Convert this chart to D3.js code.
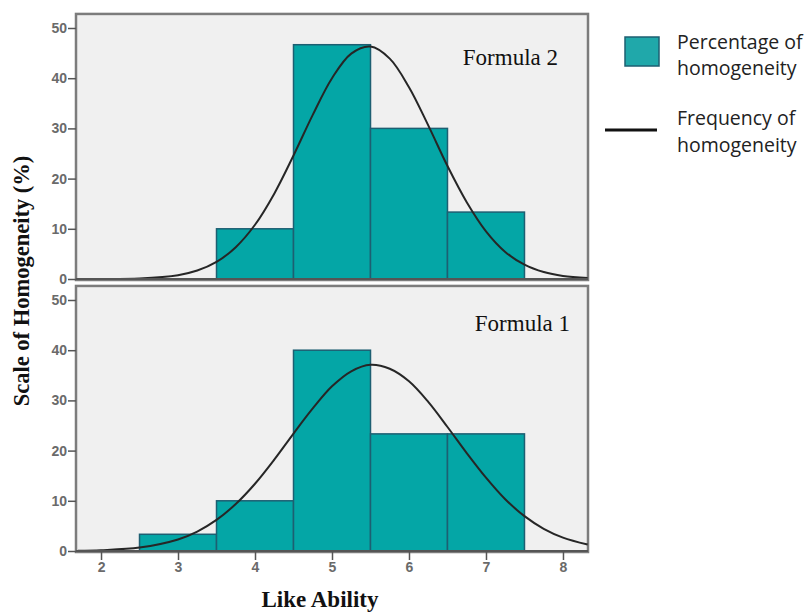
<!DOCTYPE html>
<html>
<head>
<meta charset="utf-8">
<script src="https://cdn.jsdelivr.net/npm/d3@7"></script>
<style>
  body { margin: 0; background: #fff; }
  svg { display: block; }
  .tick text { font-family: 'Liberation Sans', Arial, sans-serif; font-size: 14px; font-weight: bold; fill: #6a6a6a; }
</style>
</head>
<body>
<svg id="chart" width="809" height="612"></svg>
<script>
// bins (bin centres) and percentages
const binCenters = [3, 4, 5, 6, 7];
const formula2Pct = [0, 10, 46.67, 30, 13.33];
const formula1Pct = [3.33, 10, 40, 23.33, 23.33];

// fitted normal curves, read as points off the picture
const curveX = [1.7, 2, 2.5, 3, 3.25, 3.5, 3.75, 4, 4.25, 4.5, 4.75, 5, 5.25, 5.5, 5.75, 6, 6.25, 6.5, 6.75, 7, 7.25, 7.5, 7.75, 8, 8.32];
const formula2Curve = [0, 0.01, 0.12, 0.76, 1.68, 3.4, 6.34, 10.8, 17.0, 24.6, 32.7, 40.0, 44.9, 46.3, 43.9, 38.2, 30.6, 22.5, 15.3, 9.5, 5.4, 2.85, 1.38, 0.61, 0.19];
const formula1Curve = [0.06, 0.17, 0.69, 2.3, 3.88, 6.19, 9.36, 13.4, 18.2, 23.4, 28.4, 32.8, 35.8, 37.1, 36.3, 33.8, 29.7, 24.7, 19.5, 14.6, 10.3, 6.94, 4.41, 2.66, 1.28];

const xTicks = [2, 3, 4, 5, 6, 7, 8];
const yTicks = [0, 10, 20, 30, 40, 50];

const svg = d3.select("#chart");

const x = d3.scaleLinear().domain([1.675, 8.325]).range([76, 588]);

const panels = [
  { name: "Formula 2", pct: formula2Pct, curve: formula2Curve, y0: 279, label: [558, 65], showX: false },
  { name: "Formula 1", pct: formula1Pct, curve: formula1Curve, y0: 551, label: [570, 331], showX: true }
];

panels.forEach((p, i) => {
  const y = d3.scaleLinear().domain([0, 50]).range([p.y0, p.y0 - 251]);
  const g = svg.append("g");

  // panel background + frame
  g.append("rect")
    .attr("x", x.range()[0])
    .attr("y", y(52.8))
    .attr("width", x.range()[1] - x.range()[0])
    .attr("height", y(0) - y(52.8) + 1)
    .attr("fill", "#f0f0f0")
    .attr("stroke", "#7c7c7c")
    .attr("stroke-width", 2.5);

  const clipId = "clip" + i;
  g.append("clipPath").attr("id", clipId)
    .append("rect")
    .attr("x", x.range()[0])
    .attr("y", y(52.8))
    .attr("width", x.range()[1] - x.range()[0])
    .attr("height", y(0) - y(52.8));

  // bars
  const bars = binCenters.map((c, j) => ({ c: c, v: p.pct[j] })).filter(d => d.v > 0);
  g.selectAll(".bar")
    .data(bars)
    .enter()
    .append("rect")
    .attr("class", "bar")
    .attr("x", d => x(d.c - 0.5))
    .attr("y", d => y(d.v))
    .attr("width", d => x(d.c + 0.5) - x(d.c - 0.5))
    .attr("height", d => y(0) - y(d.v))
    .attr("fill", "#04a6a6")
    .attr("stroke", "#1d5f72")
    .attr("stroke-width", 1.5);

  // normal curve
  const line = d3.line()
    .x(d => x(d[0]))
    .y(d => y(d[1]))
    .curve(d3.curveCatmullRom);
  g.append("path")
    .datum(curveX.map((v, j) => [v, p.curve[j]]))
    .attr("clip-path", `url(#${clipId})`)
    .attr("fill", "none")
    .attr("stroke", "#262626")
    .attr("stroke-width", 2)
    .attr("d", line);

  // y axis
  const yAx = g.append("g")
    .attr("transform", `translate(${x.range()[0]},0)`)
    .call(d3.axisLeft(y).tickValues(yTicks).tickSize(8).tickPadding(1));
  yAx.select(".domain").remove();
  yAx.selectAll("line").attr("stroke", "#555").attr("stroke-width", 1.5);

  // baseline
  g.append("line")
    .attr("x1", x.range()[0]).attr("x2", x.range()[1])
    .attr("y1", y(0)).attr("y2", y(0))
    .attr("stroke", "#555").attr("stroke-width", 2);

  if (p.showX) {
    const xAx = g.append("g")
      .attr("transform", `translate(0,${y(0)})`)
      .call(d3.axisBottom(x).tickValues(xTicks).tickSize(9).tickPadding(2).tickFormat(d3.format("d")));
    xAx.select(".domain").remove();
    xAx.selectAll("line").attr("stroke", "#555").attr("stroke-width", 1.5);
  }

  // panel title
  g.append("text")
    .attr("x", p.label[0])
    .attr("y", p.label[1])
    .attr("text-anchor", "end")
    .style("font-family", "'Liberation Serif', 'Times New Roman', serif")
    .style("font-size", "23px")
    .style("fill", "#111")
    .text(p.name);
});

// axis titles
svg.append("text")
  .attr("x", -281)
  .attr("y", 29)
  .attr("transform", "rotate(-90)")
  .attr("text-anchor", "middle")
  .style("font-family", "'Liberation Serif', 'Times New Roman', serif")
  .style("font-weight", "bold")
  .style("font-size", "22.5px")
  .style("fill", "#111")
  .text("Scale of Homogeneity (%)");

svg.append("text")
  .attr("x", 320)
  .attr("y", 607)
  .attr("text-anchor", "middle")
  .style("font-family", "'Liberation Serif', 'Times New Roman', serif")
  .style("font-weight", "bold")
  .style("font-size", "23px")
  .style("fill", "#111")
  .text("Like Ability");

// legend
const legend = svg.append("g");
legend.append("rect")
  .attr("x", 625).attr("y", 37)
  .attr("width", 34).attr("height", 29)
  .attr("fill", "#20a8aa")
  .attr("stroke", "#1d5f72")
  .attr("stroke-width", 1.5);
legend.append("line")
  .attr("x1", 605).attr("x2", 657)
  .attr("y1", 130).attr("y2", 130)
  .attr("stroke", "#111").attr("stroke-width", 3);

const legendText = [
  ["Percentage of", 49], ["homogeneity", 75],
  ["Frequency of", 125], ["homogeneity", 152]
];
legend.selectAll(".lt")
  .data(legendText)
  .enter()
  .append("text")
  .attr("class", "lt")
  .attr("x", 677)
  .attr("y", d => d[1])
  .style("font-family", "'Open Sans', sans-serif")
  .style("font-size", "19.5px")
  .style("fill", "#222")
  .text(d => d[0]);
</script>
</body>
</html>
